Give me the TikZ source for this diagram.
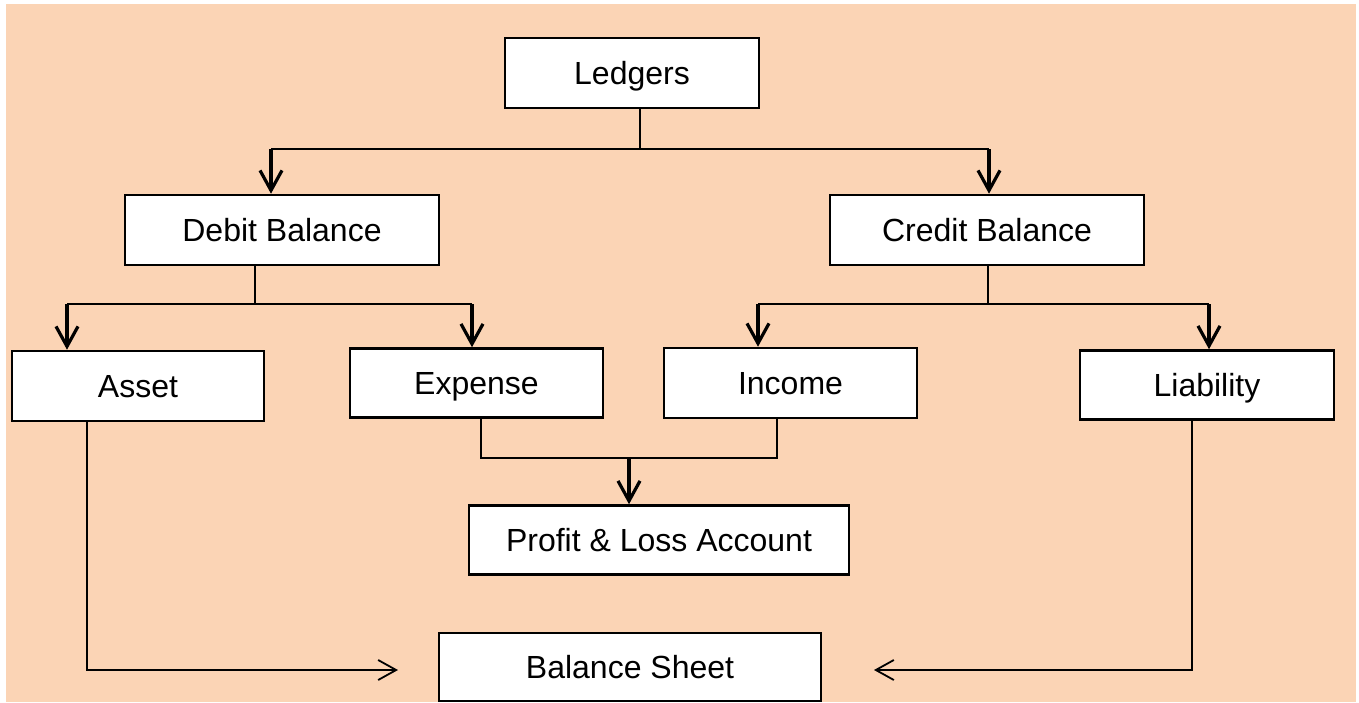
\documentclass[tikz,border=0pt]{standalone}
\usepackage{fontspec}
\setmainfont{Liberation Sans}
\usetikzlibrary{arrows.meta}
\definecolor{peach}{RGB}{251,212,181}
\tikzset{
  box/.style={draw=black, fill=white, line width=2.6pt, rectangle, inner sep=0pt,
    text height=23pt, text depth=0pt,
    font=\fontsize{32}{36}\selectfont},
  ln/.style={line width=2.5pt},
  arr/.style={line width=3.2pt, -{Straight Barb[length=20pt,width=22pt,line width=3.2pt]}},
  thinarr/.style={line width=1.8pt, -{Straight Barb[length=18pt,width=20pt,line width=1.8pt]}},
}
\begin{document}
\begin{tikzpicture}[x=1pt,y=-1pt]
\useasboundingbox (0,0) rectangle (1359,702);
\fill[white] (0,0) rectangle (1359,702);
\fill[peach] (6,4) rectangle (1356,702);

\node[box, minimum width=254pt, minimum height=70pt] (ledgers) at (632,73) {Ledgers};
\node[box, minimum width=314pt, minimum height=70pt] (debit) at (282,230) {Debit Balance};
\node[box, minimum width=314pt, minimum height=70pt] (credit) at (987,230) {Credit Balance};
\node[box, minimum width=252pt, minimum height=70pt] (asset) at (138,386) {Asset};
\node[box, minimum width=253pt, minimum height=69pt] (expense) at (476.5,383) {Expense};
\node[box, minimum width=253pt, minimum height=70pt] (income) at (790.5,383) {Income};
\node[box, minimum width=254pt, minimum height=69pt] (liability) at (1207,385) {Liability};
\node[box, minimum width=380pt, minimum height=69pt] (pl) at (659,540) {Profit \& Loss Account};
\node[box, minimum width=382pt, minimum height=68pt] (bs) at (630,667) {Balance Sheet};

% Ledgers split
\coordinate (jL) at (640,149);
\coordinate (aD) at (271,149);
\coordinate (aC) at (989,149);
\draw[ln] (ledgers.south -| jL) -- (jL);
\draw[ln] (aD) -- (aC);
\draw[arr] (aD) -- (debit.north -| aD);
\draw[arr] (aC) -- (credit.north -| aC);

% Debit split
\coordinate (jD) at (255,304);
\coordinate (aA) at (67,304);
\coordinate (aE) at (472,304);
\draw[ln] (debit.south -| jD) -- (jD);
\draw[ln] (aA) -- (aE);
\draw[arr] (aA) -- (asset.north -| aA);
\draw[arr] (aE) -- (expense.north -| aE);

% Credit split
\coordinate (jC) at (988,304);
\coordinate (aI) at (758,304);
\coordinate (aLi) at (1209,304);
\draw[ln] (credit.south -| jC) -- (jC);
\draw[ln] (aI) -- (aLi);
\draw[arr] (aI) -- (income.north -| aI);
\draw[arr] (aLi) -- (liability.north -| aLi);

% Expense + Income to P&L
\coordinate (pE) at (481,458);
\coordinate (pI) at (777,458);
\coordinate (pA) at (629,458);
\draw[ln] (expense.south -| pE) -- (pE) -- (pI) -- (income.south -| pI);
\draw[arr] (pA) -- (pl.north -| pA);

% Asset and Liability to Balance Sheet
\coordinate (bA) at (87,670);
\coordinate (bAt) at (398,670);
\coordinate (bL) at (1192,670);
\coordinate (bLt) at (874,670);
\draw[thinarr] (asset.south -| bA) -- (bA) -- (bAt);
\draw[thinarr] (liability.south -| bL) -- (bL) -- (bLt);
\end{tikzpicture}
\end{document}
